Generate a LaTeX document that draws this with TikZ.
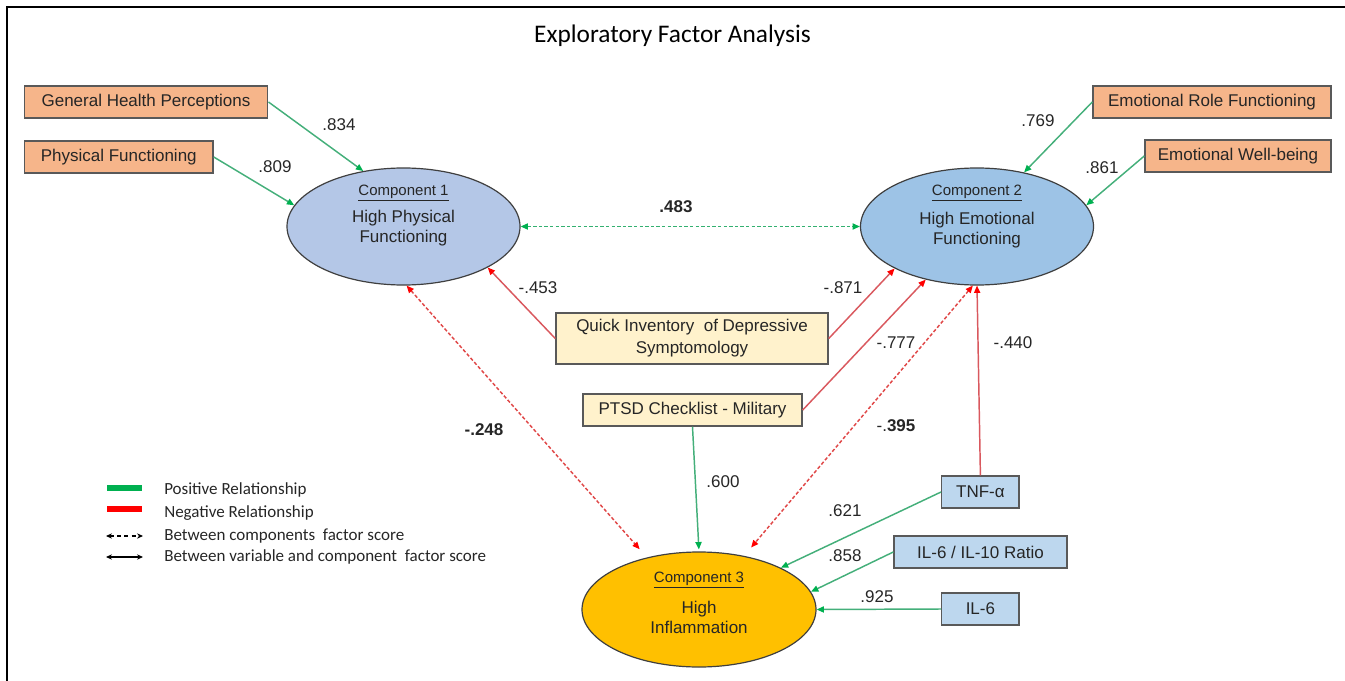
\documentclass[tikz,border=0pt]{standalone}
\usepackage{fontspec}
\setmainfont{Liberation Sans}
\newfontfamily\calibri{Carlito}
\usetikzlibrary{arrows.meta,shapes.geometric,calc}
\definecolor{boxline}{HTML}{595959}
\definecolor{ellline}{HTML}{3F3F3F}
\definecolor{txt}{HTML}{262626}
\definecolor{orangefill}{HTML}{F6B58A}
\definecolor{beigefill}{HTML}{FFF2CC}
\definecolor{bluefill}{HTML}{BDD7EE}
\definecolor{cAfill}{HTML}{B4C7E7}
\definecolor{cBfill}{HTML}{9DC3E6}
\definecolor{cCfill}{HTML}{FFC000}
\definecolor{lgreen}{HTML}{44AF7A}
\definecolor{agreen}{HTML}{00B050}
\definecolor{lred}{HTML}{D9585E}
\definecolor{dred}{HTML}{E04848}
\definecolor{ared}{HTML}{FF0000}
\definecolor{dgreen}{HTML}{33B070}
\tikzset{
  box/.style={draw=boxline, line width=1.1pt, inner sep=0pt, minimum height=24pt,
    text=txt, font=\fontsize{12.75}{16.5}\selectfont, align=center},
  comp/.style={ellipse, draw=ellline, line width=0.9pt, inner sep=0pt},
  comptitle/.style={inner sep=0pt, text=txt, font=\fontsize{11.25}{13}\selectfont},
  compname/.style={inner sep=0pt, text=txt, align=center, font=\fontsize{12.75}{15}\selectfont},
  lbl/.style={inner sep=0pt, text=txt, font=\fontsize{12.75}{15}\selectfont},
  poslink/.style={draw=lgreen, line width=1.1pt, -{Triangle[length=5.5pt,width=4.6pt,color=agreen]}},
  neglink/.style={draw=lred, line width=1.1pt, -{Triangle[length=5.5pt,width=4.6pt,color=ared]}},
  posdash/.style={draw=dgreen, line width=1.1pt, dash pattern=on 2.6pt off 1.6pt,
    {Triangle[length=5.5pt,width=4.6pt,color=agreen]}-{Triangle[length=5.5pt,width=4.6pt,color=agreen]}},
  negdash/.style={draw=dred, line width=1.1pt, dash pattern=on 2.6pt off 1.6pt,
    {Triangle[length=5.5pt,width=4.6pt,color=ared]}-{Triangle[length=5.5pt,width=4.6pt,color=ared]}},
  legtext/.style={anchor=west, inner sep=0pt, text=txt, font=\calibri\fontsize{12.75}{15}\selectfont},
  legarrow/.style={draw=black, line width=1pt, {Stealth[length=4.5pt,width=4pt]}-{Stealth[length=4.5pt,width=4pt]}}
}
\begin{document}
\begin{tikzpicture}[x=0.75pt, y=-0.75pt]
\useasboundingbox (0,0) rectangle (1345,681);
% frame
\draw[line width=2.2pt, line cap=rect] (7,681) -- (7,7) -- (1345,7);

% title
\node[inner sep=0pt, text=black, font=\calibri\fontsize{19}{22}\selectfont] (title) at (672.5,36) {Exploratory Factor Analysis};

% components
\node[comp, fill=cAfill, minimum width=174.75pt, minimum height=87.75pt] (c1) at (403.5,226.5) {};
\node[comp, fill=cBfill, minimum width=174.75pt, minimum height=87.75pt] (c2) at (977,226.5) {};
\node[comp, fill=cCfill, minimum width=175.5pt, minimum height=86.25pt] (c3) at (699,609.5) {};

\node[comptitle] (c1t) at (403.5,193) {\underline{Component 1}};
\node[compname] (c1n) at (403.5,228) {High Physical\\Functioning};
\node[comptitle] (c2t) at (977,193) {\underline{Component 2}};
\node[compname] (c2n) at (977,230) {High Emotional\\Functioning};
\node[comptitle] (c3t) at (699,580) {\underline{Component 3}};
\node[compname] (c3n) at (699,617.5) {High\\Inflammation};

% variable boxes
\node[box, fill=orangefill, minimum width=182.6pt] (ghp) at (146,102) {General Health Perceptions};
\node[box, fill=orangefill, minimum width=141.4pt] (pf) at (118.75,157) {Physical Functioning};
\node[box, fill=orangefill, minimum width=178.5pt] (erf) at (1212,102) {Emotional Role Functioning};
\node[box, fill=orangefill, minimum width=139.5pt] (ewb) at (1238,156) {Emotional Well-being};
\node[box, fill=beigefill, minimum width=204pt, minimum height=38.25pt] (qids) at (692,338.5) {Quick Inventory\ \ of Depressive\\Symptomology};
\node[box, fill=beigefill, minimum width=164.25pt] (ptsd) at (692.5,410) {PTSD Checklist - Military};
\node[box, fill=bluefill, minimum width=58pt] (tnf) at (980.4,492) {TNF-α};
\node[box, fill=bluefill, minimum width=129.75pt] (ilr) at (980.5,552) {IL-6 / IL-10 Ratio};
\node[box, fill=bluefill, minimum width=58pt] (il6) at (980.4,609) {IL-6};

% connectors
\draw[poslink] (ghp.east) -- (c1.126);
\draw[poslink] (pf.east) -- (c1.169);
\draw[poslink] (erf.west) -- (c2.49);
\draw[poslink] (ewb.west) -- (c2.11);
\draw[posdash] (c1.east) -- (c2.west);
\draw[neglink] (qids.west) -- (c1.334);
\draw[neglink] (qids.east) -- (c2.207);
\draw[neglink] (ptsd.east) -- (c2.226);
\draw[neglink] (tnf.north) -- (c2.south);
\draw[negdash, shorten >=8.2pt] (c1.273) -- (c3.135);
\draw[negdash, shorten >=8.2pt] (c2.266) -- (c3.50);
\draw[poslink, shorten >=1.5pt] (ptsd.south) -- (c3.north);
\draw[poslink] (tnf.west) -- (c3.27);
\draw[poslink] (ilr.west) -- (c3.9);
\draw[poslink] (il6.west) -- (c3.east);

% coefficient labels
\node[lbl] (l834) at (339,125) {.834};
\node[lbl] (l809) at (275,167) {.809};
\node[lbl, font=\bfseries\fontsize{12.75}{15}\selectfont] (l483) at (676,207) {.483};
\node[lbl] (l769) at (1038,121) {.769};
\node[lbl] (l861) at (1102,168) {.861};
\node[lbl] (l453) at (538,288) {-.453};
\node[lbl] (l871) at (843,288) {-.871};
\node[lbl] (l777) at (896,343) {-.777};
\node[lbl] (l440) at (1013,343) {-.440};
\node[lbl, font=\bfseries\fontsize{12.75}{15}\selectfont] (l248) at (484,430) {-.248};
\node[lbl] (l395) at (896,426) {-.\textbf{395}};
\node[lbl] (l600) at (723,482) {.600};
\node[lbl] (l621) at (845,511) {.621};
\node[lbl] (l858) at (845,556) {.858};
\node[lbl] (l925) at (877,597) {.925};

% legend
\draw[agreen, line width=5pt] (107,488) -- (142,488);
\draw[ared, line width=5pt] (107,509) -- (142,509);
\coordinate (la1) at (106,536);
\coordinate (la2) at (143,536);
\coordinate (lb1) at (106,557);
\coordinate (lb2) at (143,557);
\draw[legarrow, dash pattern=on 3pt off 2.5pt] (la1) -- (la2);
\draw[legarrow] (lb1) -- (lb2);
\node[legtext] (lg1) at (164,490) {Positive Relationship};
\node[legtext] (lg2) at (164,513) {Negative Relationship};
\node[legtext] (lg3) at (164,536) {Between components\ \ factor score};
\node[legtext] (lg4) at (164,557) {Between variable and component\ \ factor score};
\end{tikzpicture}
\end{document}
